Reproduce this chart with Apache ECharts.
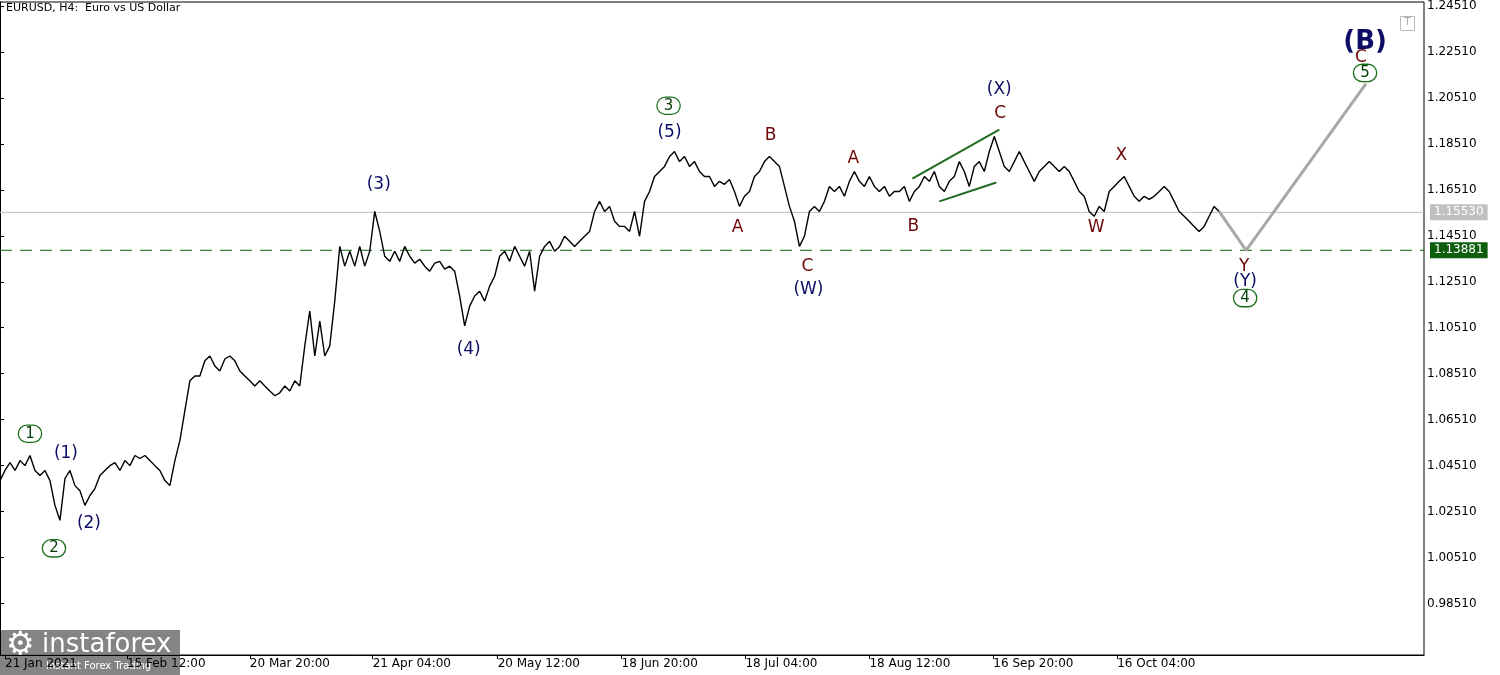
<!DOCTYPE html>
<html>
<head>
<meta charset="utf-8">
<script src="https://cdn.jsdelivr.net/npm/echarts@6/dist/echarts.min.js"></script>
<style>html,body{margin:0;padding:0;background:#fff}#main{width:1500px;height:675px}</style>
</head>
<body>
<div id="main"></div>
<script>
// EURUSD H4 closes, one value per sampled bar (index = bar step)
const prices = [
1.0386,1.0430,1.0464,1.0430,1.0473,1.0451,1.0495,1.0430,1.0408,1.0430,1.0386,1.0278,1.0213,1.0395,1.0430,1.0364,1.0342,1.0278,1.0321,1.0351,
1.0408,1.0430,1.0451,1.0464,1.0430,1.0473,1.0451,1.0495,1.0482,1.0495,1.0473,1.0451,1.0430,1.0386,1.0364,1.0473,1.0560,1.0690,1.0820,1.0841,
1.0841,1.0907,1.0928,1.0885,1.0863,1.0915,1.0928,1.0907,1.0863,1.0841,1.0820,1.0798,1.0820,1.0798,1.0776,1.0755,1.0768,1.0798,1.0776,1.0820,
1.0798,1.0972,1.1124,1.0928,1.1080,1.0928,1.0972,1.1167,1.1405,1.1319,1.1384,1.1319,1.1405,1.1319,1.1384,1.1557,1.1470,1.1362,1.1340,1.1384,
1.1340,1.1405,1.1362,1.1332,1.1349,1.1319,1.1297,1.1332,1.1340,1.1306,1.1319,1.1297,1.1189,1.1059,1.1145,1.1189,1.1210,1.1167,1.1232,1.1275,
1.1362,1.1384,1.1340,1.1405,1.1362,1.1319,1.1384,1.1210,1.1362,1.1405,1.1427,1.1384,1.1405,1.1449,1.1427,1.1405,1.1427,1.1449,1.1470,1.1557,
1.1601,1.1557,1.1579,1.1514,1.1492,1.1492,1.1470,1.1557,1.1449,1.1601,1.1644,1.1709,1.1731,1.1753,1.1796,1.1818,1.1774,1.1796,1.1753,1.1774,
1.1731,1.1709,1.1709,1.1666,1.1688,1.1675,1.1696,1.1644,1.1579,1.1623,1.1644,1.1709,1.1731,1.1774,1.1796,1.1774,1.1753,1.1666,1.1579,1.1514,
1.1405,1.1449,1.1557,1.1579,1.1557,1.1601,1.1666,1.1644,1.1666,1.1623,1.1688,1.1731,1.1688,1.1666,1.1709,1.1666,1.1644,1.1666,1.1623,1.1644,
1.1644,1.1666,1.1601,1.1644,1.1666,1.1709,1.1688,1.1731,1.1666,1.1644,1.1688,1.1709,1.1774,1.1731,1.1666,1.1753,1.1774,1.1731,1.1818,1.1883,
1.1818,1.1753,1.1731,1.1774,1.1818,1.1774,1.1731,1.1688,1.1731,1.1753,1.1774,1.1753,1.1731,1.1753,1.1731,1.1688,1.1644,1.1623,1.1557,1.1536,
1.1579,1.1557,1.1644,1.1666,1.1688,1.1709,1.1666,1.1623,1.1601,1.1623,1.1610,1.1623,1.1644,1.1666,1.1644,1.1601,1.1557,1.1536,1.1514,1.1492,
1.1470,1.1492,1.1536,1.1579,1.1557
];
const projection = [[244, 1.1557], [249.4, 1.1388], [273.4, 1.2113]];
const triUpper = [[182.6, 1.1700], [200, 1.1913]];
const triLower = [[188, 1.1601], [199.4, 1.1683]];
const currentPrice = 1.15530;
const levelPrice = 1.13881;
const yTicks = [0.98510, 1.00510, 1.02510, 1.04510, 1.06510, 1.08510, 1.10510, 1.12510, 1.14510, 1.16510, 1.18510, 1.20510, 1.22510, 1.24510];
const xTicks = [1, 25.4, 50, 74.6, 99.6, 124.4, 149.2, 174, 198.8, 223.6];
const xTickLabels = ['21 Jan 2021', '15 Feb 12:00', '20 Mar 20:00', '21 Apr 04:00', '20 May 12:00', '18 Jun 20:00', '18 Jul 04:00', '18 Aug 12:00', '16 Sep 20:00', '16 Oct 04:00'];
// wave labels: [x, price, text, kind]
const waveLabels = [
  [6, 1.0590, '1', 'circle'], [13.2, 1.0503, '(1)', 'navy'], [10.8, 1.0091, '2', 'circle'], [17.8, 1.0200, '(2)', 'navy'],
  [75.8, 1.1675, '(3)', 'navy'], [93.8, 1.0954, '(4)', 'navy'], [133.8, 1.2017, '3', 'circle'], [134, 1.1900, '(5)', 'navy'],
  [154.2, 1.1887, 'B', 'red'], [147.6, 1.1488, 'A', 'red'], [161.6, 1.1319, 'C', 'red'], [161.8, 1.1215, '(W)', 'navy'],
  [170.8, 1.1787, 'A', 'red'], [182.8, 1.1492, 'B', 'red'], [200, 1.2087, '(X)', 'navy'], [200.2, 1.1983, 'C', 'red'],
  [224.4, 1.1800, 'X', 'red'], [219.4, 1.1488, 'W', 'red'], [249, 1.1319, 'Y', 'red'], [249.2, 1.1254, '(Y)', 'navy'],
  [249.2, 1.1180, '4', 'circle'], [272.4, 1.2225, 'C', 'red'], [273.2, 1.2295, '(B)', 'big'], [273.2, 1.2160, '5', 'circle']
];

const styles = {
  navy: { color: '#0d0d66', fontSize: 17 },
  red: { color: '#6e0606', fontSize: 17 },
  big: { color: '#0d0d66', fontSize: 26, fontWeight: 'bold' },
  circle: { color: '#063d06', fontSize: 15, backgroundColor: '#fff', borderColor: '#1a6e1a', borderWidth: 1.3, borderRadius: 10, width: 18, height: 14, align: 'center', padding: [1, 2] }
};

const chart = echarts.init(document.getElementById('main'));
const F = 'DejaVu Sans';
const levelLine = (p, color, type, bg) => ({
  type: 'line', data: [[0, p], [285, p]], symbol: 'none', silent: true,
  lineStyle: { color: color, type: type, width: 1 },
  endLabel: { show: true, formatter: p.toFixed(5), color: '#fff', backgroundColor: bg, padding: [2, 4], fontSize: 12, distance: 6, fontFamily: F }
});
chart.setOption({
  animation: false,
  textStyle: { fontFamily: F },
  grid: { left: 0, right: 76, top: 0, bottom: 20, show: true, borderColor: '#000', borderWidth: 1 },
  xAxis: {
    type: 'value', min: 0, max: 285,
    axisLine: { show: true, onZero: false, lineStyle: { color: '#000' } },
    splitLine: { show: false },
    axisTick: { show: true, customValues: xTicks, lineStyle: { color: '#000' }, length: 4 },
    axisLabel: {
      customValues: xTicks, color: '#000', fontSize: 12, align: 'left', margin: 3,
      formatter: v => xTickLabels[xTicks.indexOf(v)] || ''
    }
  },
  yAxis: {
    type: 'value', position: 'right', min: 0.9627, max: 1.24684,
    axisLine: { show: true, lineStyle: { color: '#000' } },
    splitLine: { show: false },
    axisTick: { show: true, customValues: yTicks, inside: false, length: 4, lineStyle: { color: '#000' } },
    axisLabel: { customValues: yTicks, color: '#000', fontSize: 12, margin: 3, formatter: v => v.toFixed(5) }
  },
  graphic: [
    { type: 'text', left: 6, top: 3, style: { text: 'EURUSD, H4:  Euro vs US Dollar', fill: '#000', font: '11px DejaVu Sans' } },
    { type: 'rect', left: 1400, top: 16, shape: { width: 14, height: 14 }, style: { fill: '#fff', stroke: '#bbb' } },
    { type: 'text', left: 1404, top: 17, style: { text: 'T', fill: '#aaa', font: '11px DejaVu Sans' } },
    { type: 'rect', left: 0, top: 630, shape: { width: 180, height: 45 }, style: { fill: 'rgba(110,110,110,0.85)' } },
    { type: 'text', left: 6, top: 630, style: { text: '⚙', fill: '#fff', font: '32px DejaVu Sans' } },
    { type: 'text', left: 42, top: 632, style: { text: 'instaforex', fill: '#fff', font: '26px DejaVu Sans' } },
    { type: 'text', left: 46, top: 661, style: { text: 'Instant Forex Trading', fill: '#fff', font: '10px DejaVu Sans' } }
  ],
  series: [
    levelLine(currentPrice, '#c0c0c0', 'solid', '#c0c0c0'),
    levelLine(levelPrice, '#0e5e0e', [12, 8], '#0e5e0e'),
    { type: 'line', data: prices.map((p, i) => [i, p]), showSymbol: false, symbol: 'none', lineStyle: { color: '#000', width: 1.4 } },
    { type: 'line', data: projection, symbol: 'none', lineStyle: { color: '#a8a8a8', width: 3 } },
    { type: 'line', data: triUpper, symbol: 'none', lineStyle: { color: '#1f6b1f', width: 2 } },
    { type: 'line', data: triLower, symbol: 'none', lineStyle: { color: '#1f6b1f', width: 2 } },
    {
      type: 'scatter', symbolSize: 0, z: 10, itemStyle: { opacity: 1 },
      data: waveLabels.map(w => ({ value: [w[0], w[1]], label: Object.assign({ show: true, position: 'inside', formatter: w[2], fontFamily: F }, styles[w[3]]) }))
    }
  ]
});
</script>
</body>
</html>
